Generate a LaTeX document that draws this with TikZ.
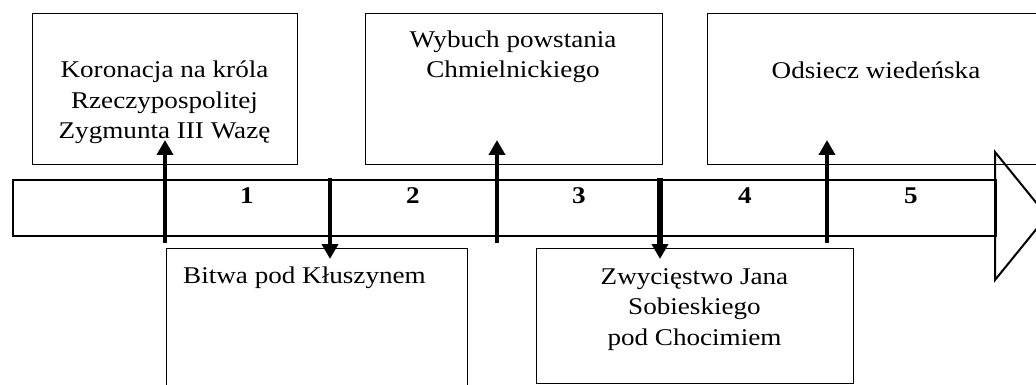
\documentclass[tikz,border=0pt]{standalone}
\usepackage{fontspec}
\setmainfont{Liberation Serif}[FakeStretch=1.13]
\usetikzlibrary{arrows.meta,positioning}

\tikzset{
	timepicture/.style = {
		x = 1pt,
		y = -1pt,
		eventarrow/.style = {
			draw,
			line width = 4pt,
			-{Triangle[length=15pt, width=16pt]},
		}
	},
	eventbox/.style = {
		rectangle,
		draw = black,
		line width = 1pt,
		anchor = north west,
		inner sep = 0pt
	},
	eventtext/.style = {
		anchor = base,
		align = center,
		inner sep = 0pt,
		font = \fontsize{24}{30.5}\selectfont
	},
	period/.style = {
		anchor = base,
		inner sep = 0pt,
		font = \fontsize{24}{30.5}\selectfont\bfseries
	},
	timeline/.style = {
		draw = black,
		line width = 2pt
	}
}

\begin{document}
\begin{tikzpicture}[timepicture]
	\useasboundingbox (0,0) rectangle (1036,385);
	\clip (0,0) rectangle (1036,385);

	% boxes above the line
	\node[eventbox, minimum width = 265pt, minimum height = 151pt] (koronacja) at (32,13) {};
	\node[eventbox, minimum width = 297pt, minimum height = 151pt] (wybuch) at (365,13) {};
	\node[eventbox, minimum width = 338pt, minimum height = 151pt] (odsiecz) at (707,13) {};
	% boxes below the line
	\node[eventbox, minimum width = 301pt, minimum height = 160pt] (bitwa) at (166,248) {};
	\node[eventbox, minimum width = 317pt, minimum height = 135pt] (zwyciestwo) at (536,248) {};

	% texts, placed by the baseline of their last line
	\node[eventtext] (koronacja-t) at (164.5,139) {Koronacja na króla\\Rzeczypospolitej\\Zygmunta III Wazę};
	\node[eventtext] (wybuch-t) at (513,78) {Wybuch powstania\\Chmielnickiego};
	\node[eventtext] (odsiecz-t) at (876,79) {Odsiecz wiedeńska};
	\node[eventtext] (bitwa-t) at (304.5,283) {Bitwa pod Kłuszynem};
	\node[eventtext] (zwyciestwo-t) at (694.5,345) {Zwycięstwo Jana\\Sobieskiego\\pod Chocimiem};

	% the time line
	\node[timeline, rectangle, anchor = north west, inner sep = 0pt,
		minimum width = 983pt, minimum height = 56pt] (line) at (12,179) {};
	\draw[timeline, line join = miter] (995,152) -- (1047,216) -- (995,280) -- cycle;

	\foreach \n in {1,...,5}
		\node[period] (p\n) at (81+166*\n,203) {\n};

	% dates
	\coordinate (d1) at (165,243);
	\coordinate (d2) at (330,178);
	\coordinate (d3) at (497,243);
	\coordinate (d4) at (660,178);
	\coordinate (d5) at (827,243);
	\coordinate (e1) at (165,140);
	\coordinate (e2) at (330,259);
	\coordinate (e3) at (497,140);
	\coordinate (e4) at (660,259);
	\coordinate (e5) at (827,140);

	\begin{scope}[every path/.style = eventarrow]
		\path (d1) to (e1);
		\path (d2) to (e2);
		\path (d3) to (e3);
		\path[line width = 6pt] (d4) to (e4);
		\path (d5) to (e5);
	\end{scope}
\end{tikzpicture}
\end{document}
